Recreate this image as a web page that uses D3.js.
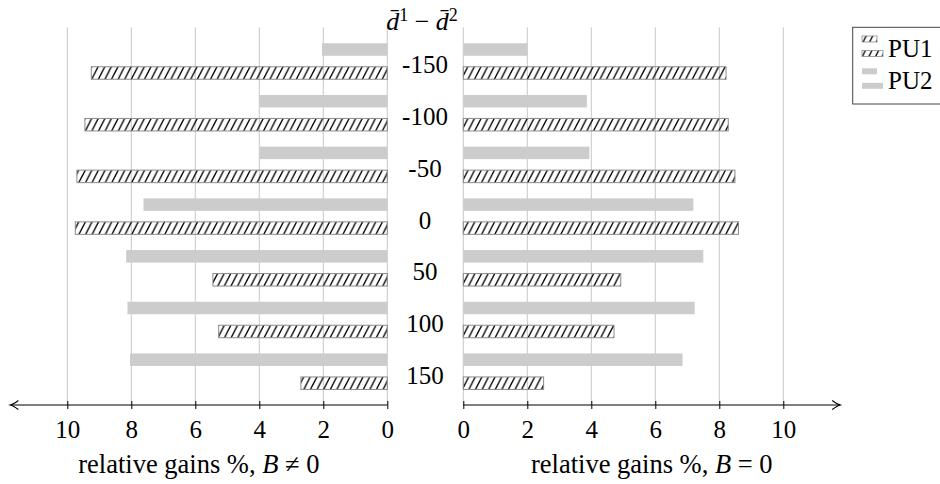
<!DOCTYPE html>
<html>
<head>
<meta charset="utf-8">
<script src="https://cdn.jsdelivr.net/npm/d3@7"></script>
</head>
<body style="margin:0;background:#fff">
<svg id="chart" width="940" height="484"></svg>
<script>
// Difference of mean distances (rows) and relative gains for two users
const categories = ["-150", "-100", "-50", "0", "50", "100", "150"];
const seriesNames = ["PU2", "PU1"];
const leftPU1  = [9.25, 9.45, 9.70, 9.75, 5.45, 5.27, 2.70];   // B != 0
const leftPU2  = [2.04, 4.00, 4.00, 7.62, 8.16, 8.12, 8.04];
const rightPU1 = [8.21, 8.28, 8.49, 8.60, 4.92, 4.71, 2.51];   // B = 0
const rightPU2 = [2.00, 3.86, 3.94, 7.19, 7.50, 7.23, 6.85];
const tickValues = [0, 2, 4, 6, 8, 10];
const axisMax = 11.78;

const SERIF = "'Liberation Serif', 'Times New Roman', serif";
const svg = d3.select("#chart");
const FONT = "25px";
const gridTop = 27.3, axisY = 405;

const serif = (sel, size) => sel.style("font-family", SERIF).style("font-size", size || FONT).attr("fill", "#000");

const xLeft  = d3.scaleLinear().domain([0, 10]).range([387.3, 67.3]);
const xRight = d3.scaleLinear().domain([0, 10]).range([463.3, 783.3]);
const y = d3.scaleBand().domain(categories).range([35.4, 397.3]);
const ySeries = d3.scaleBand().domain(seriesNames).range([-23.5, 23.5]);
const barH = 12.5;

// hatch pattern (north-east lines)
const defs = svg.append("defs");
const pat = defs.append("pattern")
  .attr("id", "hatch").attr("patternUnits", "userSpaceOnUse")
  .attr("width", 6.6).attr("height", 13);
pat.append("path")
  .attr("d", "M0,13 L6.6,0 M-1,2 L1,-2 M5.6,15 L7.6,11")
  .attr("stroke", "#000").attr("stroke-width", 1.3).attr("fill", "none");

const fillFor = s => s === "PU1" ? "url(#hatch)" : "#cccccc";
const strokeFor = s => s === "PU1" ? "#8c8c8c" : "none";

function panel(x, pu1, pu2, dir, label) {
  const g = svg.append("g");
  // vertical grid
  g.selectAll("line.grid").data(tickValues).join("line")
    .attr("class", "grid")
    .attr("x1", d => x(d)).attr("x2", d => x(d))
    .attr("y1", gridTop).attr("y2", axisY)
    .attr("stroke", "#c8c8c8").attr("stroke-width", 1);

  // bars
  const rows = [];
  categories.forEach((c, i) => {
    rows.push({ c, s: "PU2", v: pu2[i] });
    rows.push({ c, s: "PU1", v: pu1[i] });
  });
  g.selectAll("rect.bar").data(rows).join("rect")
    .attr("class", "bar")
    .attr("x", d => Math.min(x(0), x(d.v)))
    .attr("width", d => Math.abs(x(d.v) - x(0)))
    .attr("y", d => y(d.c) + y.bandwidth() / 2 + ySeries(d.s) + (ySeries.bandwidth() - barH) / 2)
    .attr("height", barH)
    .attr("fill", d => fillFor(d.s))
    .attr("stroke", d => strokeFor(d.s))
    .attr("stroke-width", 1);

  // axis line with arrow
  const x0 = x(0), x1 = x(axisMax);
  g.append("line")
    .attr("x1", x0).attr("x2", x1).attr("y1", axisY).attr("y2", axisY)
    .attr("stroke", "#000").attr("stroke-width", 1.2);
  const a = dir; // +1 right, -1 left
  g.append("path")
    .attr("d", `M${x1 - a * 8},${axisY - 4.5} Q${x1 - a * 3},${axisY - 0.8} ${x1},${axisY} Q${x1 - a * 3},${axisY + 0.8} ${x1 - a * 8},${axisY + 4.5}`)
    .attr("fill", "none").attr("stroke", "#000").attr("stroke-width", 1.2);

  const ax = g.append("g").attr("transform", `translate(0,${axisY})`)
    .call(d3.axisBottom(x).tickValues(tickValues).tickSizeOuter(0).tickFormat(d3.format("d")));
  ax.select(".domain").remove();
  ax.selectAll(".tick line").attr("y1", -4).attr("y2", 4).attr("stroke", "#000").attr("stroke-width", 1);
  ax.selectAll(".tick text").attr("y", 33).attr("dy", 0).call(serif);

  // axis label
  const t = g.append("text")
    .attr("x", (x0 + x1) / 2).attr("y", 473)
    .attr("text-anchor", "middle").call(serif, "26.5px");
  t.append("tspan").text("relative gains %, ");
  t.append("tspan").style("font-style", "italic").text("B");
  t.append("tspan").text(label);
}

panel(xLeft, leftPU1, leftPU2, -1, " \u2260 0");
panel(xRight, rightPU1, rightPU2, 1, " = 0");

// row labels in the centre column
svg.append("g").selectAll("text").data(categories).join("text")
  .attr("x", 425).attr("y", d => y(d) + y.bandwidth() / 2 + 12.2)
  .attr("text-anchor", "middle").call(serif)
  .text(d => d);

// column heading
const title = svg.append("text").attr("x", 422).attr("y", 30)
  .attr("text-anchor", "middle").call(serif, "26px");
title.append("tspan").style("font-style", "italic").text("d\u0304");
title.append("tspan").style("font-size", "18px").attr("dy", -9).text("1");
title.append("tspan").attr("dy", 9).text(" \u2212 ");
title.append("tspan").style("font-style", "italic").text("d\u0304");
title.append("tspan").style("font-size", "18px").attr("dy", -9).text("2");

// legend
const lg = svg.append("g");
lg.append("rect").attr("x", 852.7).attr("y", 27.3).attr("width", 100).attr("height", 76.7)
  .attr("fill", "#fff").attr("stroke", "#444").attr("stroke-width", 1);
const legendRows = [
  { s: "PU1", top: 36, base: 56.7 },
  { s: "PU2", top: 68.3, base: 89.3 }
];
legendRows.forEach(r => {
  lg.append("rect").attr("x", 862).attr("y", r.top).attr("width", 15).attr("height", 6)
    .attr("fill", fillFor(r.s)).attr("stroke", strokeFor(r.s)).attr("stroke-width", 0.8);
  lg.append("rect").attr("x", 862).attr("y", r.top + 14.5).attr("width", 21).attr("height", 6)
    .attr("fill", fillFor(r.s)).attr("stroke", strokeFor(r.s)).attr("stroke-width", 0.8);
  lg.append("text").attr("x", 888).attr("y", r.base).call(serif).text(r.s);
});
</script>
</body>
</html>
